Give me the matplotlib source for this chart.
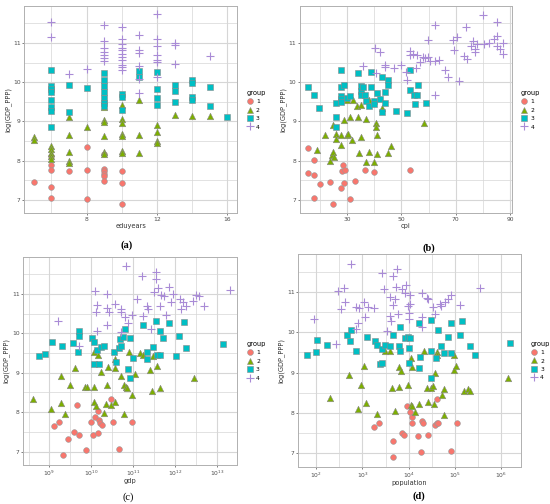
import matplotlib
matplotlib.use("Agg")
import matplotlib.pyplot as plt
import numpy as np
from matplotlib.lines import Line2D
from matplotlib.ticker import FixedLocator, LogFormatterMathtext, NullFormatter

# =========================
# DATA (x, log(GDP_PPP)) per group
# =========================
# (a) eduyears
edu_g1 = [(5, 7.45), (6, 8.12), (6, 7.9), (6, 7.75), (6, 7.32), (6, 7.04), (7, 7.73),
          (8, 8.34), (8, 7.75), (8, 7.02), (9, 8.16), (9, 7.79), (9, 7.73), (9, 7.67),
          (9, 7.62), (9, 7.49), (10, 7.73), (10, 7.42), (10, 6.9)]
edu_g2 = [(5, 8.6), (5, 8.53), (6, 8.36), (6, 8.29), (6, 8.19), (6, 8.12), (6, 8.05),
          (7, 9.12), (7, 8.66), (7, 8.22), (7, 8.0), (7, 7.95), (8, 8.86),
          (9, 9.54), (9, 9.36), (9, 9.03), (9, 8.98), (9, 8.63), (9, 8.22), (9, 8.18),
          (10, 9.41), (10, 9.07), (10, 8.97), (10, 8.68), (10, 8.64), (10, 8.25), (10, 8.2),
          (11, 9.54), (11, 8.66), (11, 8.2), (12, 8.92), (12, 8.72), (12, 8.51), (12, 8.44),
          (13, 9.17), (14, 9.14), (15, 9.14)]
edu_g3 = [(6, 10.31), (6, 9.89), (6, 9.82), (6, 9.76), (6, 9.54), (6, 9.37), (6, 9.26), (6, 8.86),
          (7, 9.93), (7, 9.24), (8, 9.86), (9, 10.23), (9, 10.06), (9, 9.91), (9, 9.74),
          (9, 9.6), (9, 9.46), (9, 9.4), (10, 9.7), (10, 9.63), (10, 9.28), (11, 10.29),
          (11, 10.13), (12, 10.27), (12, 9.83), (12, 9.59), (12, 9.43), (13, 9.93), (13, 9.78),
          (13, 9.5), (14, 10.06), (14, 9.97), (14, 9.63), (14, 9.54), (15, 9.87), (15, 9.4),
          (16, 9.11)]
edu_g4 = [(6, 11.54), (6, 11.16), (7, 10.22), (8, 10.34), (9, 11.45), (9, 11.05), (9, 10.86),
          (9, 10.77), (9, 10.69), (9, 10.62), (9, 10.55), (10, 11.4), (10, 11.11), (10, 10.97),
          (10, 10.88), (10, 10.82), (10, 10.71), (10, 10.64), (10, 10.57), (10, 10.45),
          (10, 10.38), (10, 10.32), (11, 11.19), (11, 10.81), (11, 10.75), (11, 10.41),
          (11, 10.08), (11, 9.72), (12, 11.73), (12, 11.09), (12, 10.92), (12, 10.69),
          (12, 10.57), (12, 10.52), (12, 10.13), (13, 11.0), (13, 10.95), (13, 10.47), (15, 10.66)]

# (b) cpi
cpi_g1 = [(15.8, 8.32), (15.8, 7.68), (17.9, 8.01), (17.9, 7.64), (17.9, 7.05), (19.9, 7.4),
          (23.9, 7.45), (24.9, 6.89), (28.5, 7.9), (28.2, 7.74), (27.9, 7.3), (28.9, 7.42),
          (29.1, 7.75), (31.0, 7.02), (32.8, 7.49), (36.7, 7.75), (39.9, 7.72), (53.0, 7.76)]
cpi_g2 = [(18.8, 8.26), (21.8, 8.65), (23.6, 8.0), (24.5, 8.15), (24.9, 8.22), (25.2, 8.08),
          (24.9, 8.9), (25.8, 8.68), (25.8, 8.55), (27.9, 8.65), (27.9, 8.41), (28.9, 9.04),
          (29.8, 8.65), (30.4, 8.69), (30.1, 9.55), (31.0, 9.12), (32.0, 8.52), (32.2, 9.55),
          (33.8, 9.38), (34.0, 9.12), (34.3, 8.2), (35.0, 8.61), (35.0, 9.42), (36.8, 9.06),
          (37.0, 7.96), (37.9, 8.22), (38.1, 9.55), (39.9, 7.96), (40.8, 8.96), (40.8, 8.86),
          (41.1, 8.65), (41.1, 8.18), (42.8, 9.33), (45.0, 8.2), (46.0, 8.36), (58.2, 8.95)]
cpi_g3 = [(15.7, 9.88), (17.9, 9.68), (19.7, 9.35), (25.8, 9.47), (25.8, 9.12), (25.8, 8.85),
          (27.9, 10.3), (27.9, 9.87), (27.9, 9.64), (27.9, 9.57), (27.9, 9.49), (28.9, 9.92),
          (29.8, 9.59), (31.0, 9.65), (34.0, 10.24), (35.0, 9.9), (35.0, 9.78), (35.0, 9.66),
          (35.9, 9.87), (36.7, 9.66), (37.0, 9.52), (37.9, 9.38), (38.8, 9.87), (38.8, 10.26),
          (39.9, 9.52), (39.9, 9.44), (41.0, 9.72), (42.0, 9.58), (43.0, 10.13), (43.8, 9.76),
          (44.0, 9.46), (43.0, 9.25), (45.0, 10.05), (45.0, 9.92), (48.1, 9.27), (52.1, 9.22),
          (53.0, 10.3), (53.0, 9.81), (54.8, 9.68), (55.1, 9.44), (55.8, 9.66), (56.0, 9.94),
          (59.1, 9.48)]
cpi_g4 = [(35.9, 10.41), (40.1, 10.88), (42.3, 10.78), (40.5, 10.24), (43.8, 10.45), (43.8, 10.38),
          (47.2, 10.35), (49.9, 10.45), (51.8, 10.26), (52.1, 10.06), (53.0, 10.79), (53.2, 10.69),
          (54.2, 10.73), (55.4, 10.36), (55.9, 10.69), (56.9, 10.52), (58.1, 10.64), (58.7, 10.62),
          (59.6, 10.64), (59.7, 11.08), (60.7, 10.55), (62.2, 11.45), (62.5, 10.55), (62.4, 9.68),
          (64.0, 10.56), (66.1, 10.32), (67.0, 10.12), (69.1, 11.08), (69.2, 10.82), (70.5, 11.16),
          (71.3, 10.04), (72.9, 10.67), (73.8, 11.41), (74.1, 10.58), (75.6, 10.92), (76.2, 11.05),
          (77.1, 10.84), (77.1, 10.77), (77.7, 10.97), (79.9, 11.72), (80.2, 10.97), (82.3, 11.01),
          (84.1, 11.09), (85.3, 11.54), (85.1, 11.18), (85.1, 10.92), (86.4, 10.84), (87.2, 10.71),
          (87.5, 11.01)]

# (c) gdp, x stored as log10(gdp)
gdp_g1 = [(9.1, 7.65), (9.23, 7.75), (9.32, 6.91), (9.45, 7.31), (9.59, 7.5), (9.71, 7.43),
          (9.65, 8.18), (9.87, 7.03), (10.0, 7.75), (10.05, 7.43), (10.08, 7.89), (10.15, 7.46),
          (10.15, 8.02), (10.19, 7.79), (10.21, 7.73), (10.25, 7.68), (10.46, 8.34), (10.52, 7.75),
          (10.67, 7.06), (10.96, 7.75)]
gdp_g2 = [(8.6, 8.34), (9.04, 8.09), (9.27, 8.93), (9.27, 8.23), (9.36, 7.96), (9.49, 8.68),
          (9.61, 9.12), (9.85, 8.64), (9.9, 8.64), (10.07, 8.64), (10.07, 8.27), (10.11, 8.16),
          (10.06, 9.52), (10.15, 9.44), (10.23, 9.03), (10.3, 7.99), (10.35, 8.2), (10.38, 8.7),
          (10.4, 9.14), (10.47, 8.19), (10.56, 9.34), (10.56, 9.12), (10.56, 8.26), (10.72, 8.93),
          (10.78, 7.96), (10.78, 8.68), (10.82, 8.64), (10.86, 8.61), (10.9, 9.52), (10.96, 8.44),
          (11.04, 8.97), (11.16, 9.51), (11.24, 9.44), (11.41, 9.06), (11.44, 8.53), (11.48, 9.42),
          (11.56, 9.16), (11.63, 8.61), (12.44, 8.87)]
gdp_g3 = [(8.75, 9.42), (8.9, 9.48), (9.06, 9.79), (9.31, 9.69), (9.55, 9.76), (9.69, 9.52),
          (9.71, 10.05), (9.71, 9.93), (10.02, 9.88), (10.07, 9.79), (10.07, 9.23), (10.13, 9.57),
          (10.19, 9.23), (10.22, 9.65), (10.3, 9.69), (10.54, 9.52), (10.6, 9.27), (10.67, 9.62),
          (10.68, 9.86), (10.71, 9.69), (10.76, 9.9), (10.8, 10.11), (10.87, 9.1), (10.92, 8.87),
          (10.92, 9.88), (11.0, 9.37), (11.24, 10.22), (11.32, 9.52), (11.34, 9.34), (11.48, 9.65),
          (11.54, 10.3), (11.56, 9.46), (11.63, 10.05), (11.65, 9.46), (11.71, 9.88), (11.86, 10.26),
          (12.09, 9.93), (12.03, 9.42), (12.21, 10.28), (12.25, 9.64), (13.14, 9.73)]
gdp_g4 = [(9.21, 10.32), (9.71, 9.69), (10.09, 11.08), (10.11, 10.55), (10.14, 10.72), (10.13, 10.07),
          (10.37, 11.0), (10.37, 10.22), (10.37, 10.64), (10.43, 10.55), (10.56, 10.75), (10.7, 10.62),
          (10.71, 10.55), (10.72, 10.03), (10.8, 10.41), (10.83, 11.7), (10.88, 10.27), (10.96, 10.47),
          (11.1, 10.87), (11.22, 11.46), (11.24, 10.45), (11.32, 10.69), (11.36, 10.62), (11.42, 10.1),
          (11.49, 11.04), (11.54, 11.55), (11.54, 11.38), (11.6, 11.14), (11.63, 10.7), (11.67, 10.97),
          (11.73, 10.95), (11.79, 10.47), (11.86, 11.17), (11.91, 10.79), (11.94, 11.0), (12.11, 10.87),
          (12.13, 10.62), (12.19, 10.79), (12.27, 10.7), (12.43, 10.81), (12.51, 10.97), (12.57, 10.94),
          (12.69, 10.69), (13.3, 11.1)]

# (d) population, x stored as log10(population)
pop_g1 = [(3.25, 7.64), (3.35, 7.76), (3.65, 7.31), (3.65, 6.91), (3.86, 7.51), (3.89, 7.45),
          (3.96, 8.17), (4.03, 8.02), (4.06, 7.76), (4.08, 7.9), (4.19, 7.42), (4.26, 7.02),
          (4.28, 7.8), (4.3, 7.74), (4.41, 7.46), (4.57, 7.69), (4.6, 7.74), (4.62, 8.34),
          (4.64, 7.76), (4.92, 7.05), (5.05, 7.76)]
pop_g2 = [(2.29, 8.36), (2.7, 8.95), (2.9, 8.09), (2.97, 8.69), (3.03, 9.16), (3.08, 8.25),
          (3.31, 7.97), (3.49, 9.53), (3.6, 9.53), (3.63, 8.62), (3.71, 8.04), (3.79, 8.64),
          (3.79, 9.14), (3.84, 9.03), (3.98, 8.7), (4.05, 8.19), (4.07, 8.17), (4.14, 8.02),
          (4.05, 9.35), (4.07, 9.14), (4.22, 8.21), (4.32, 9.53), (4.39, 8.62), (4.42, 8.26),
          (4.48, 8.62), (4.53, 8.66), (4.57, 8.98), (4.55, 8.21), (4.6, 9.51), (4.62, 9.43),
          (4.71, 8.44), (4.75, 8.6), (4.77, 7.94), (4.98, 9.43), (4.98, 9.06), (5.03, 9.16),
          (5.2, 8.54), (5.28, 8.59), (5.32, 8.54), (6.14, 8.87)]
pop_g3 = [(1.81, 9.43), (2.0, 9.51), (2.01, 9.8), (2.24, 9.69), (2.67, 9.93), (2.72, 9.78),
          (2.76, 10.05), (2.85, 9.53), (3.1, 9.88), (3.28, 9.78), (3.31, 9.68), (3.38, 9.22),
          (3.43, 9.25), (3.43, 9.58), (3.49, 9.68), (3.6, 9.66), (3.67, 9.93), (3.79, 9.66),
          (3.81, 9.53), (3.81, 10.13), (3.92, 9.86), (3.98, 9.88), (4.0, 9.61), (4.01, 9.25),
          (4.03, 9.86), (4.23, 10.23), (4.23, 9.12), (4.25, 9.39), (4.48, 10.3), (4.49, 9.53),
          (4.49, 8.87), (4.58, 9.35), (4.64, 10.05), (4.69, 9.65), (4.77, 9.49), (4.84, 9.88),
          (4.91, 10.24), (4.92, 9.49), (5.16, 10.28), (5.1, 9.93), (5.32, 9.65), (5.43, 9.43),
          (6.18, 9.74)]
pop_g4 = [(1.95, 10.34), (2.42, 9.7), (2.47, 11.02), (2.54, 10.57), (2.6, 11.1), (2.62, 10.75),
          (2.76, 11.7), (2.85, 10.09), (2.87, 10.63), (2.92, 10.59), (2.91, 10.24), (3.03, 10.75),
          (3.06, 10.38), (3.12, 10.63), (3.24, 10.59), (3.42, 11.48), (3.46, 11.08), (3.53, 10.02),
          (3.6, 10.88), (3.6, 10.4), (3.62, 10.27), (3.65, 11.4), (3.67, 10.67), (3.71, 10.82),
          (3.72, 11.12), (3.74, 11.56), (3.76, 10.46), (3.85, 11.08), (3.91, 10.98), (3.94, 11.18),
          (3.98, 10.65), (4.0, 10.49), (4.0, 10.34), (4.03, 10.93), (4.03, 10.69), (4.28, 10.98),
          (4.28, 10.38), (4.28, 10.13), (4.39, 10.85), (4.41, 10.82), (4.53, 10.63), (4.57, 10.46),
          (4.67, 10.69), (4.69, 10.65), (4.78, 10.75), (4.84, 10.83), (4.91, 10.93), (5.1, 10.67),
          (5.53, 11.1)]

group_labels = ["1", "2", "3", "4"]

# =========================
# STYLE
# =========================
styles = [
    dict(marker="o", s=17, c="#F8766D", edgecolors="#9a9a9a", linewidths=0.4),
    dict(marker="^", s=22, c="#7CAE00", edgecolors="#8a8a8a", linewidths=0.4),
    dict(marker="s", s=17, c="#00BFC4", edgecolors="#8a8a8a", linewidths=0.4),
    dict(marker="+", s=34, c="#A98BD6", linewidths=0.8),
]
grid_col = "#d6d6d6"
tick_col = "#4d4d4d"

fig = plt.figure(figsize=(5.5, 5.04), dpi=100)


def panel(rect, groups, xlabel, xlim, xmajor, xminor, log=False):
    ax = fig.add_axes(rect)
    for pts, st in zip(groups, styles):
        xs = np.array([p[0] for p in pts])
        ys = np.array([p[1] for p in pts])
        if log:
            xs = 10.0 ** xs
        ax.scatter(xs, ys, zorder=3, **st)
    if log:
        ax.set_xscale("log")
        ax.set_xlim(10.0 ** xlim[0], 10.0 ** xlim[1])
        ax.xaxis.set_major_locator(FixedLocator([10.0 ** v for v in xmajor]))
        ax.xaxis.set_minor_locator(FixedLocator([10.0 ** v for v in xminor]))
        ax.xaxis.set_major_formatter(LogFormatterMathtext())
        ax.xaxis.set_minor_formatter(NullFormatter())
    else:
        ax.set_xlim(*xlim)
        ax.set_xticks(xmajor)
        ax.set_xticks(xminor, minor=True)
    ax.set_ylim(6.66, 11.94)
    ax.set_yticks([7, 8, 9, 10, 11])
    ax.set_yticks([7.5, 8.5, 9.5, 10.5, 11.5], minor=True)
    ax.set_axisbelow(True)
    ax.grid(which="major", color=grid_col, lw=0.8)
    ax.grid(which="minor", color=grid_col, lw=0.5)
    for sp in ax.spines.values():
        sp.set_color("#b0b0b0")
        sp.set_linewidth(0.7)
    ax.tick_params(which="major", labelsize=4.3, colors=tick_col, length=1.5, width=0.5, pad=1)
    ax.tick_params(which="minor", length=0)
    ax.set_xlabel(xlabel, fontsize=4.8, color="#333333", labelpad=0.5 if log else 1)
    ax.set_ylabel("log(GDP_PPP)", fontsize=4.8, color="#333333", labelpad=1.5)

    handles = [Line2D([], [], ls="", marker=st["marker"], markersize=4.2 if st["marker"] != "+" else 6,
                      markerfacecolor=st["c"], markeredgecolor=st.get("edgecolors", st["c"]),
                      markeredgewidth=st["linewidths"], color=st["c"]) for st in styles]
    ax.legend(handles, group_labels, title="group", loc="center left",
              bbox_to_anchor=(1.03, 0.5), frameon=False, fontsize=4.3,
              title_fontsize=4.8, alignment="left", handlelength=1.2,
              handletextpad=0.4, labelspacing=0.55, borderpad=0)
    return ax


panel([0.044, 0.577, 0.387, 0.411], [edu_g1, edu_g2, edu_g3, edu_g4], "eduyears",
      (4.45, 16.55), [8, 12, 16], [6, 10, 14])
panel([0.545, 0.577, 0.385, 0.411], [cpi_g1, cpi_g2, cpi_g3, cpi_g4], "cpi",
      (12.6, 90.5), [30, 50, 70, 90], [20, 40, 60, 80])
panel([0.042, 0.0774, 0.389, 0.413], [gdp_g1, gdp_g2, gdp_g3, gdp_g4], "gdp",
      (8.37, 13.48), [9, 10, 11, 12, 13], [8.5, 9.5, 10.5, 11.5, 12.5], log=True)
panel([0.542, 0.0734, 0.405, 0.4226], [pop_g1, pop_g2, pop_g3, pop_g4], "population",
      (1.61, 6.42), [2, 3, 4, 5, 6], [2.5, 3.5, 4.5, 5.5], log=True)

cap = dict(fontsize=7.5, family="Liberation Serif", ha="center", va="center")
fig.text(127 / 550, 1 - 245 / 504, "(a)", fontweight="bold", **cap)
fig.text(429 / 550, 1 - 248 / 504, "(b)", fontweight="bold", **cap)
fig.text(128 / 550, 1 - 497 / 504, "(c)", **cap)
fig.text(419 / 550, 1 - 496 / 504, "(d)", fontweight="bold", **cap)

fig.savefig("out.png", dpi=100, facecolor="white")
